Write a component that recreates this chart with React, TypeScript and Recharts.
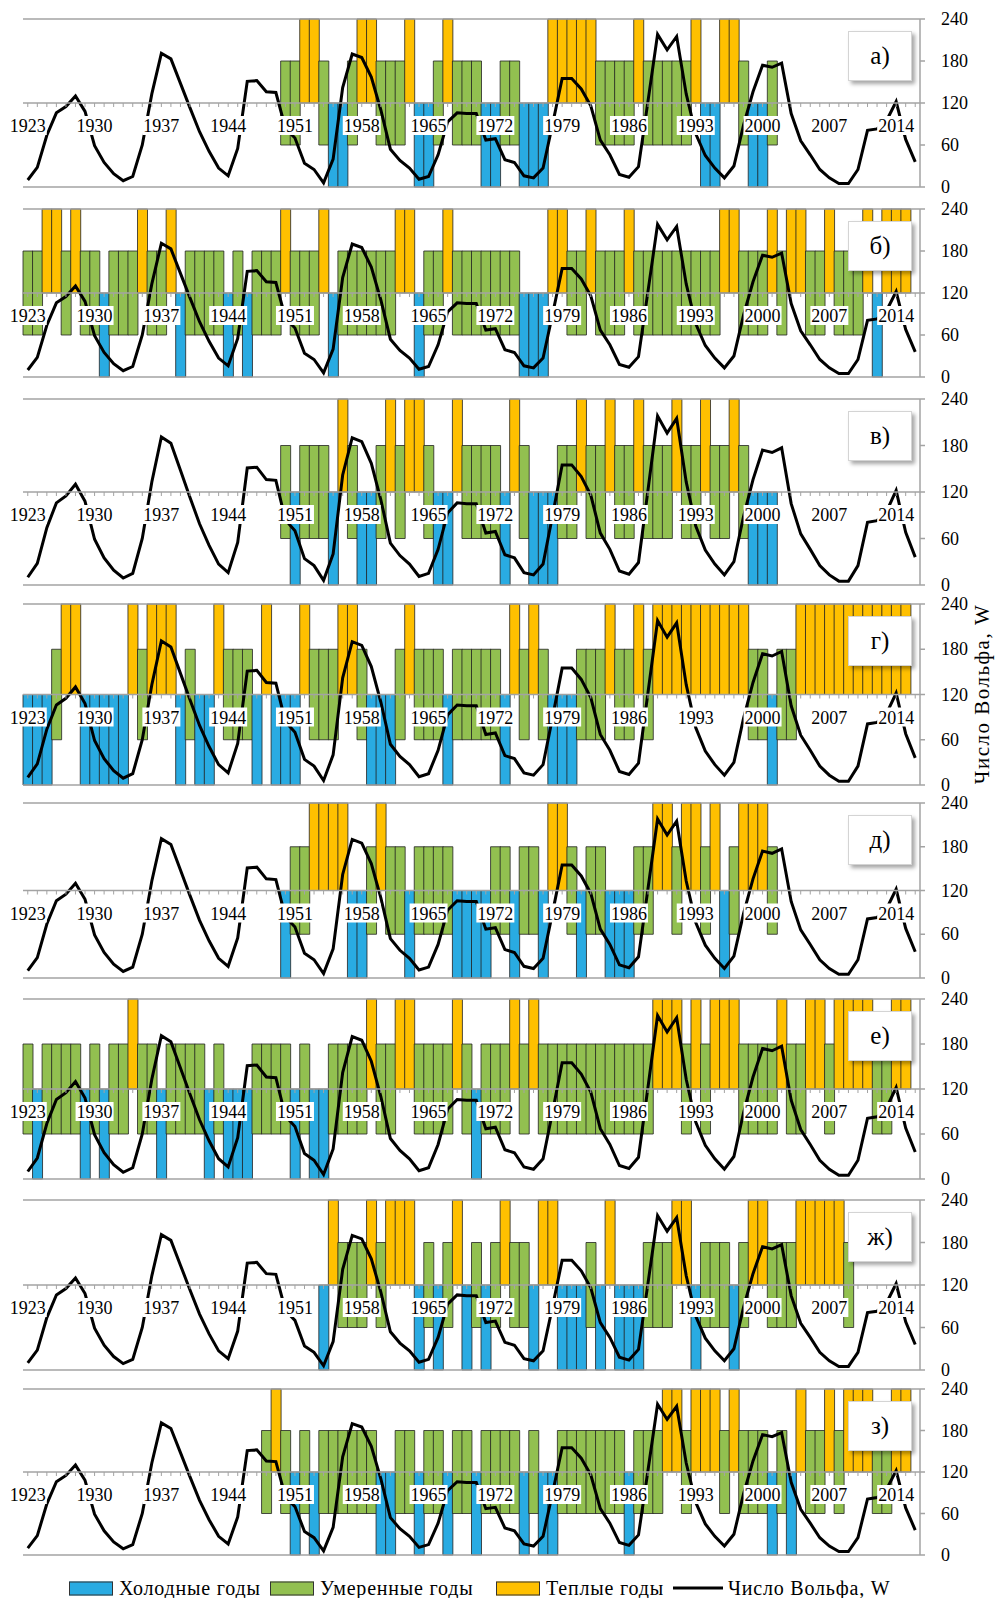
import { ComposedChart, Bar, Line, XAxis, YAxis, ReferenceLine, Cell } from "recharts";

const FIRST_YEAR = 1923;
const LAST_YEAR = 2016;
const years: number[] = [];
for (let y = FIRST_YEAR; y <= LAST_YEAR; y++) years.push(y);

// Wolf number, 1923..2016
const wolf = [
  10, 28, 74, 106, 115, 130, 108, 59, 35, 19,
  9, 15, 60, 133, 191, 183, 148, 113, 79, 51,
  27, 16, 55, 151, 152, 136, 135, 84, 70, 34,
  25, 6, 40, 142, 190, 185, 157, 110, 54, 38,
  27, 11, 15, 46, 93, 106, 105, 105, 67, 69,
  39, 35, 16, 13, 27, 90, 155, 155, 140, 116,
  67, 46, 18, 14, 29, 123, 218, 196, 215, 133,
  76, 45, 27, 13, 30, 88, 136, 174, 171, 177,
  105, 66, 46, 25, 13, 5, 5, 25, 81, 83,
  95, 122, 68, 36,
];

// year classes, one letter per year from 1923: c = cold, m = moderate, w = warm, . = no data
const panelA = ".".repeat(27) + "mmwwmccmww" + "mmmwccmwmm" + "mccmmcccww" + "wwwmmmmwmm" + "mmmwccwwmc" + "cm" + ".".repeat(15);
const panelB = "mmwwmwmmcm" + "mmwmmwcmmm" + "mcmcmmmwmm" + "mwcmmmmmmw" + "wcmmwmmmmm" + "mmcccwwmmw" + "mmmwmmmmmm" + "mmmwwmmmwm" + "wwmmwmmmwc" + "www.";
const panelV = ".".repeat(27) + "mcmmmcwmcc" + "mwmwwmccwm" + "mmmcwmcccm" + "mwmmwmmwmm" + "mwmmwmmwmc" + "cc" + ".".repeat(15);
const panelG = "cccmwwcccc" + "cwmwwwcmcc" + "wmmmcwcccw" + "mmmwwmcccm" + "wmmmcmmmmm" + "cwmwmcccmm" + "mwmmwmwwww" + "wwwwwwmmcm" + "mwwwwwwwww" + "www.";
const panelD = ".".repeat(27) + "cmmwwwwccm" + "wmmcmmmmcc" + "ccmmcmmcww" + "mcmmcccmmw" + "wmwwmwcmww" + "wm" + ".".repeat(15);
const panelE = "mcmmmmcmcm" + "mwmmcmmmmc" + "mcccmmmmcm" + "ccmmmmwmmw" + "wmmmmwmcmm" + "mwmwmmmmmm" + "mmmmmmwwwm" + "wmwwwmmmmw" + "mmwwmwwwwm" + "mww.";
const panelZh = ".".repeat(31) + "cwmmmwmwww" + "cmcmwcmcmw" + "mmcwwcccmc" + "wcccmmmwwc" + "mmmcmwwmmm" + "wwwwwm" + ".".repeat(7);
const panelZ = ".".repeat(25) + "mwmcmcmmmm" + "mmccmmcmmc" + "mmcmmmmcmc" + "cmmmmmmmcm" + "mmwwmwwwmw" + "mmmcmcwmmw" + "mwwwmmww" + ".";

const panelCodes = [panelA, panelB, panelV, panelG, panelD, panelE, panelZh, panelZ];
const panelNames = ["а)", "б)", "в)", "г)", "д)", "е)", "ж)", "з)"];

const classRange: Record<string, [number, number]> = {
  c: [0, 120],
  m: [60, 180],
  w: [120, 240],
};

const yTicks = [0, 60, 120, 180, 240];

// layout: plot top / bottom of each panel on the page
const layout = [
  { top: 19, bottom: 187 },
  { top: 209, bottom: 377 },
  { top: 399, bottom: 585 },
  { top: 604, bottom: 785 },
  { top: 803, bottom: 978 },
  { top: 999, bottom: 1179 },
  { top: 1200, bottom: 1370 },
  { top: 1389, bottom: 1555 },
];

const COLORS: Record<string, string> = {
  c: "#29ABE2",
  m: "#92C050",
  w: "#FFC000",
};
const GRID = "#a3a3a3";
const SERIF = "'Liberation Serif', 'Times New Roman', serif";
const W = 995;
const PAD = 12;
const AXIS_H = 30;

function YearTick(props: any) {
  const { x, y, payload } = props;
  const year = payload.value;
  if ((year - FIRST_YEAR) % 7 !== 0) return null;
  return (
    <g>
      <rect x={x - 19} y={y + 9} width={38} height={19} fill="#fff" />
      <text x={x} y={y + 25} textAnchor="middle" fontSize={18} fontFamily={SERIF} fill="#000">
        {year}
      </text>
    </g>
  );
}

function ValueTick(props: any) {
  const { x, y, payload } = props;
  return (
    <text x={x} y={y} dy={6} textAnchor="start" fontSize={18} fontFamily={SERIF} fill="#000">
      {payload.value}
    </text>
  );
}

function Panel({ codes, name, top, bottom }: { codes: string; name: string; top: number; bottom: number }) {
  const plotH = bottom - top;
  const H = plotH + 2 * PAD;
  const data = years.map((year, i) => {
    const c = codes[i];
    return {
      year,
      cls: c,
      range: c === "." ? null : classRange[c],
      wolf: wolf[i],
    };
  });

  return (
    <div style={{ position: "absolute", left: 0, top: top - PAD, width: W, height: H }}>
      <div style={{ position: "absolute", left: 0, top: 0 }}>
        <ComposedChart
          width={W}
          height={H}
          data={data}
          margin={{ top: PAD, right: 0, bottom: PAD, left: 23 }}
          barCategoryGap={0}
          barGap={0}
        >
          <XAxis dataKey="year" hide />
          <YAxis
            yAxisId="l"
            orientation="left"
            width={0}
            domain={[0, 240]}
            tick={false}
            tickLine={false}
            axisLine={{ stroke: GRID, strokeWidth: 1.5 }}
          />
          <YAxis
            yAxisId="r"
            orientation="right"
            width={75}
            domain={[0, 240]}
            ticks={yTicks}
            interval={0}
            tickSize={5}
            tickMargin={16}
            tickLine={{ stroke: GRID, strokeWidth: 1.5 }}
            axisLine={{ stroke: GRID, strokeWidth: 1.5 }}
            tick={<ValueTick />}
          />
          <ReferenceLine yAxisId="r" y={240} stroke={GRID} strokeWidth={1.5} />
          <ReferenceLine yAxisId="r" y={0} stroke={GRID} strokeWidth={1.5} />
          <Bar yAxisId="r" dataKey="range" stroke="#222" strokeWidth={0.8} isAnimationActive={false}>
            {data.map((d) => (
              <Cell key={d.year} fill={d.cls === "." ? "none" : COLORS[d.cls]} />
            ))}
          </Bar>
          <Line
            yAxisId="r"
            type="linear"
            dataKey="wolf"
            stroke="#000"
            strokeWidth={3}
            dot={false}
            activeDot={false}
            isAnimationActive={false}
          />
        </ComposedChart>
      </div>
      {/* year axis sitting on the 120 line, drawn above bars and line */}
      <div style={{ position: "absolute", left: 0, top: 0 }}>
        <ComposedChart
          width={W}
          height={H}
          data={data}
          margin={{ top: PAD, right: 75, bottom: PAD + plotH / 2 - AXIS_H, left: 23 }}
        >
          <XAxis
            dataKey="year"
            scale="band"
            height={AXIS_H}
            interval={0}
            tickSize={4}
            tickMargin={0}
            axisLine={{ stroke: GRID, strokeWidth: 1.5 }}
            tickLine={{ stroke: GRID, strokeWidth: 1 }}
            tick={<YearTick />}
          />
          <YAxis hide domain={[0, 240]} />
          <Line
            type="linear"
            dataKey="wolf"
            stroke="none"
            dot={false}
            activeDot={false}
            isAnimationActive={false}
          />
        </ComposedChart>
      </div>
      <div
        style={{
          position: "absolute",
          left: 848,
          top: PAD + 12,
          width: 64,
          height: 50,
          background: "#fff",
          border: "1px solid #d4d4d4",
          boxShadow: "3px 3px 4px rgba(0,0,0,0.35)",
          boxSizing: "border-box",
          display: "flex",
          alignItems: "center",
          justifyContent: "center",
          fontFamily: SERIF,
          fontSize: 25,
          color: "#000",
        }}
      >
        {name}
      </div>
    </div>
  );
}

const legendItems = [
  { label: "Холодные годы", kind: "c", left: 69 },
  { label: "Умеренные годы", kind: "m", left: 270 },
  { label: "Теплые годы", kind: "w", left: 496 },
  { label: "Число Вольфа, W", kind: "line", left: 673 },
];

export default function App() {
  return (
    <div style={{ position: "relative", width: W, height: 1598, background: "#fff", fontFamily: SERIF }}>
      <style>{`body{margin:0}`}</style>
      {layout.map((l, i) => (
        <Panel key={panelNames[i]} codes={panelCodes[i]} name={panelNames[i]} top={l.top} bottom={l.bottom} />
      ))}
      <div
        style={{
          position: "absolute",
          left: 982,
          top: 694,
          transform: "translate(-50%, -50%) rotate(-90deg)",
          whiteSpace: "nowrap",
          fontSize: 21,
          letterSpacing: 1.5,
          color: "#000",
        }}
      >
        Число Вольфа, W
      </div>
      {legendItems.map((it) => (
        <div
          key={it.label}
          style={{
            position: "absolute",
            left: it.left,
            top: 1588,
            transform: "translateY(-50%)",
            display: "flex",
            alignItems: "center",
            whiteSpace: "nowrap",
            fontSize: 20,
            letterSpacing: 0.8,
            color: "#000",
          }}
        >
          {it.kind === "line" ? (
            <span style={{ display: "inline-block", width: 50, height: 3, background: "#000", marginRight: 5 }} />
          ) : (
            <span
              style={{
                display: "inline-block",
                width: 42,
                height: 12,
                background: COLORS[it.kind],
                border: "1px solid #333",
                marginRight: 6,
              }}
            />
          )}
          <span>{it.label}</span>
        </div>
      ))}
    </div>
  );
}
